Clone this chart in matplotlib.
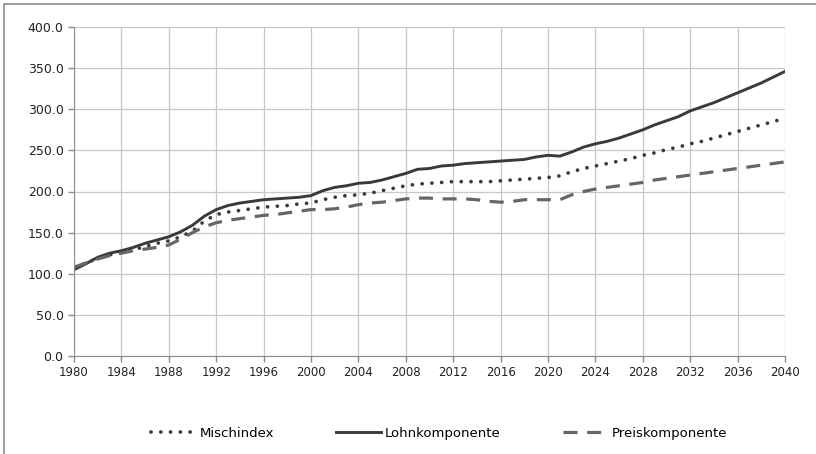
import numpy as np
import matplotlib
matplotlib.use('Agg')
import matplotlib.pyplot as plt
from matplotlib.patches import Rectangle

plt.rcParams['font.family'] = 'DejaVu Sans'

# Jahre 1980..2040
years = list(range(1980, 2041))

mischindex = [107, 113, 119, 123, 126, 129, 133, 137, 140, 145,
              152, 164, 172, 175, 177, 179, 181, 182, 183, 185,
              186, 190, 193, 195, 196, 198, 201, 204, 207, 209,
              210, 211, 212, 212, 212, 212, 213, 214, 215, 216,
              217, 219, 224, 228, 231, 234, 237, 240, 244, 247,
              251, 254, 258, 261, 265, 269, 273, 277, 281, 285,
              289]

lohnkomponente = [105, 112, 120, 125, 128, 132, 137, 141, 145, 151,
                  159, 170, 178, 183, 186, 188, 190, 191, 192, 193,
                  195, 201, 205, 207, 210, 211, 214, 218, 222, 227,
                  228, 231, 232, 234, 235, 236, 237, 238, 239, 242,
                  244, 243, 248, 254, 258, 261, 265, 270, 275, 281,
                  286, 291, 298, 303, 308, 314, 320, 326, 332, 339,
                  346]

preiskomponente = [108, 113, 118, 122, 125, 128, 130, 132, 135, 142,
                   150, 157, 162, 165, 167, 169, 171, 172, 174, 176,
                   178, 178, 179, 181, 184, 186, 187, 189, 191, 192,
                   192, 191, 191, 191, 190, 188, 187, 188, 190, 190,
                   190, 190, 196, 200, 203, 205, 207, 209, 211, 214,
                   216, 218, 220, 222, 224, 226, 228, 230, 232, 234,
                   236]

xticks = list(range(1980, 2041, 4))
yticks = [0, 50, 100, 150, 200, 250, 300, 350, 400]

fig = plt.figure(figsize=(8.16, 4.54), dpi=100)
# Rahmen um das Diagramm (nur oben/links sichtbar)
fig.patches.append(Rectangle((4 / 816, -0.1), 1.1, 1 - 4 / 454 + 0.1, transform=fig.transFigure,
                             fill=False, edgecolor='#8c8c8c', linewidth=1.2))

ax = fig.add_axes([74 / 816, 1 - 356 / 454, (785 - 74) / 816, (356 - 27) / 454])

ax.plot(years, mischindex, color='#3a3a3a', linewidth=2.7, linestyle=(0, (0.01, 2.6)),
        dash_capstyle='round', label='Mischindex')
ax.plot(years, lohnkomponente, color='#3a3a3a', linewidth=2.1, label='Lohnkomponente')
ax.plot(years, preiskomponente, color='#666666', linewidth=2.3, linestyle=(0, (4.4, 3.0)),
        label='Preiskomponente')

ax.set_xlim(1980, 2040)
ax.set_ylim(0, 400)
ax.set_xticks(xticks)
ax.set_yticks(yticks)
ax.set_yticklabels(['%.1f' % v for v in yticks])
ax.tick_params(axis='both', colors='#8c8c8c', labelcolor='#222222', length=4, width=1)
ax.tick_params(axis='x', labelsize=8.5)
ax.tick_params(axis='y', labelsize=9)
ax.grid(True, color='#c8c8c8', linewidth=0.9)
ax.set_axisbelow(True)
for s in ['top', 'right']:
    ax.spines[s].set_visible(False)
for s in ['left', 'bottom']:
    ax.spines[s].set_color('#8c8c8c')

fig.legend(loc='center', bbox_to_anchor=(0.538, 0.046), ncol=3, frameon=False, fontsize=9.5,
           handlelength=3.4, handletextpad=0.3, columnspacing=4.7)

fig.savefig('out.png', dpi=100)
